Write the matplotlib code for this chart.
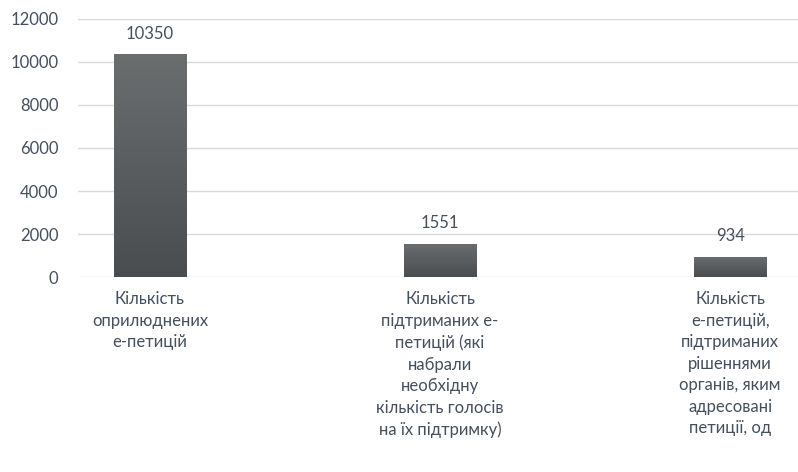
import matplotlib.pyplot as plt
import numpy as np
from matplotlib.colors import LinearSegmentedColormap

categories = [
    "Кількість\nоприлюднених\nе-петицій",
    "Кількість\nпідтриманих е-\nпетицій (які\nнабрали\nнеобхідну\nкількість голосів\nна їх підтримку)",
    "Кількість\nе-петицій,\nпідтриманих\nрішеннями\nорганів, яким\nадресовані\nпетиції, од",
]
values = [10350, 1551, 934]
yticks = [0, 2000, 4000, 6000, 8000, 10000, 12000]

text_color = "#44505e"
plt.rcParams["font.family"] = ["Lato", "DejaVu Sans"]

fig = plt.figure(figsize=(7.98, 4.72), dpi=100)
ax = fig.add_axes([0.0977, 0.413, 0.9023, 0.547])

x = np.arange(len(values))
bars = ax.bar(x, values, width=0.25, color="#575a5c", zorder=2)

# vertical gradient on each bar
grad = np.linspace(0, 1, 256).reshape(-1, 1)
cmap = LinearSegmentedColormap.from_list("g", ["#4a4d50", "#6b6e6f"])
for b in bars:
    bx, by = b.get_x(), b.get_y()
    w, h = b.get_width(), b.get_height()
    im = ax.imshow(grad, cmap=cmap, aspect="auto", origin="lower",
                   extent=[bx, bx + w, by, by + h], zorder=3)
    im.set_clip_path(b)

for xi, v in zip(x, values):
    ax.annotate(str(v), (xi, v), xytext=(0, 9), textcoords="offset points",
                ha="center", va="bottom", fontsize=12, color=text_color)

ax.set_xlim(-0.248, 2.234)
ax.set_ylim(0, 12000)
ax.set_yticks(yticks)
ax.set_yticklabels([str(t) for t in yticks])
ax.set_xticks(x)
ax.set_xticklabels(categories, linespacing=1.43)
ax.tick_params(axis="y", length=0, pad=14, labelsize=12, labelcolor=text_color)
ax.tick_params(axis="x", length=0, pad=10, labelsize=12, labelcolor=text_color)
ax.yaxis.grid(True, color="#d9d9d9", linewidth=1, zorder=0)
ax.set_axisbelow(True)
for s in ax.spines.values():
    s.set_visible(False)

fig.savefig("out.png", dpi=100)
